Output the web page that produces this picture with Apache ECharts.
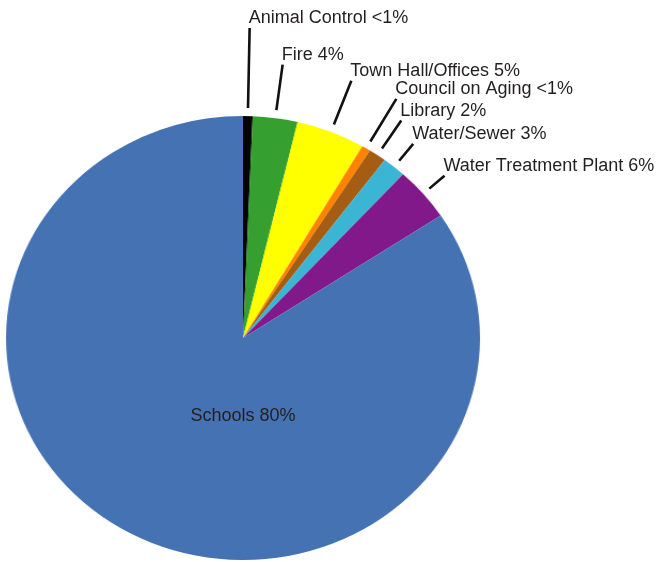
<!DOCTYPE html>
<html>
<head>
<meta charset="utf-8">
<script src="https://cdn.jsdelivr.net/npm/echarts/dist/echarts.min.js"></script>
<style>
html, body { margin: 0; padding: 0; background: #ffffff; overflow: hidden; }
#wrap { position: relative; width: 664px; height: 562px; }
#pie, #labels { position: absolute; left: 0; top: 0; width: 664px; height: 562px; }
</style>
</head>
<body>
<div id="wrap"><div id="pie"></div><div id="labels"></div></div>
<script>
// ---- data ----
const categories = ['Animal Control', 'Fire', 'Town Hall/Offices', 'Council on Aging', 'Library', 'Water/Sewer', 'Water Treatment Plant', 'Schools'];
const shares = [0.65, 3.05, 4.7, 0.6, 1.2, 1.6, 3.9, 84.3];
const shareLabels = ['<1%', '4%', '5%', '<1%', '2%', '3%', '6%', '80%'];

// ---- styles / layout ----
const sliceColors = ['#050505', '#35a030', '#ffff00', '#ff8300', '#a55d13', '#3ab5d3', '#81198a', '#4572b3'];
const leaderLengths = [80, 46, 47, 50, 34, 22, 20, 0];
const insideIndex = 7;
const CX = 243, CY = 338, R = 222, RX = 237;
const GAP = 8;
const FONT = '"Liberation Sans", Arial, Helvetica, sans-serif';

const total = shares.reduce((a, b) => a + b, 0);
const midAngles = [];
let acc = 0;
shares.forEach(v => { midAngles.push(2 * Math.PI * (acc + v / 2) / total); acc += v; });

const pieData = categories.map((c, i) => ({ name: c, value: shares[i], itemStyle: { color: sliceColors[i] } }));

// pie (scaled horizontally to an ellipse)
const pieDiv = document.getElementById('pie');
pieDiv.style.transformOrigin = CX + 'px ' + CY + 'px';
pieDiv.style.transform = 'scaleX(' + (RX / R) + ')';
const pieChart = echarts.init(pieDiv, null, { renderer: 'canvas' });
pieChart.setOption({
  animation: false,
  series: [{
    type: 'pie',
    silent: true,
    center: [CX, CY],
    radius: [0, R],
    startAngle: 90,
    clockwise: true,
    avoidLabelOverlap: false,
    label: { show: false },
    labelLine: { show: false },
    emphasis: { disabled: true },
    data: pieData
  }]
});

// labels overlay (unscaled)
const labelChart = echarts.init(document.getElementById('labels'), null, { renderer: 'canvas' });
labelChart.setOption({
  animation: false,
  series: [{
    type: 'pie',
    silent: true,
    center: [CX, CY],
    radius: [0, R],
    startAngle: 90,
    clockwise: true,
    avoidLabelOverlap: false,
    itemStyle: { color: 'rgba(0,0,0,0)' },
    emphasis: { disabled: true },
    label: {
      show: true,
      position: 'outside',
      formatter: p => categories[p.dataIndex] + ' ' + shareLabels[p.dataIndex],
      fontFamily: FONT,
      fontSize: 18,
      color: '#231f20',
      width: 320,
      overflow: 'none'
    },
    labelLine: { show: true, length: 10, length2: 0, lineStyle: { color: '#111111', width: 2.6 } },
    labelLayout: function (p) {
      const i = p.dataIndex;
      if (i === insideIndex) {
        return { x: CX, y: CY + R * 0.35, align: 'center', verticalAlign: 'middle' };
      }
      const a = midAngles[i];
      const s = [CX + (RX + GAP) * Math.sin(a), CY - (R + GAP) * Math.cos(a)];
      const e = [s[0] + leaderLengths[i] * Math.sin(a), s[1] - leaderLengths[i] * Math.cos(a)];
      return {
        x: e[0] - 1,
        y: e[1] - 1,
        align: 'left',
        verticalAlign: 'bottom',
        labelLinePoints: [s, e, e]
      };
    },
    data: categories.map((c, i) => i === insideIndex
      ? { name: c, value: shares[i], label: { position: 'inside' }, labelLine: { show: false } }
      : { name: c, value: shares[i] })
  }]
});
</script>
</body>
</html>
